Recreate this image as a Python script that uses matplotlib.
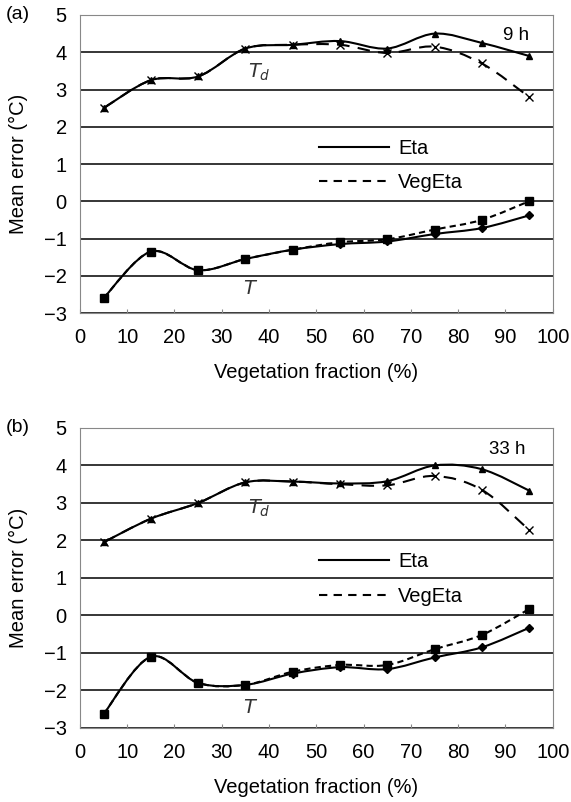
import numpy as np
from matplotlib import pyplot as plt
from matplotlib.path import Path
from matplotlib.patches import PathPatch
from matplotlib.lines import Line2D

plt.rcParams['font.family'] = ['Liberation Sans', 'DejaVu Sans']
plt.rcParams['font.size'] = 14.5

veg = [5, 15, 25, 35, 45, 55, 65, 75, 85, 95]

# panel (a), 9 h
td_eta_a = [2.5, 3.25, 3.35, 4.1, 4.2, 4.3, 4.1, 4.5, 4.25, 3.9]
td_veg_a = [2.5, 3.25, 3.35, 4.1, 4.2, 4.2, 3.98, 4.15, 3.7, 2.8]
t_eta_a = [-2.6, -1.35, -1.85, -1.55, -1.3, -1.15, -1.08, -0.88, -0.72, -0.38]
t_veg_a = [-2.6, -1.35, -1.85, -1.55, -1.3, -1.1, -1.02, -0.76, -0.5, 0.0]

# panel (b), 33 h
td_eta_b = [1.95, 2.58, 3.0, 3.55, 3.57, 3.52, 3.58, 4.0, 3.9, 3.33]
td_veg_b = [1.95, 2.58, 3.0, 3.55, 3.57, 3.5, 3.47, 3.72, 3.35, 2.28]
t_eta_b = [-2.63, -1.1, -1.8, -1.85, -1.55, -1.38, -1.43, -1.12, -0.85, -0.33]
t_veg_b = [-2.63, -1.1, -1.8, -1.85, -1.5, -1.32, -1.32, -0.9, -0.52, 0.17]

yticks = [-3, -2, -1, 0, 1, 2, 3, 4, 5]
xticks = [0, 10, 20, 30, 40, 50, 60, 70, 80, 90, 100]


def smooth_path(x, y):  # Excel style smoothed line, bezier through the points
    p = np.column_stack([x, y]).astype(float)
    verts = [p[0]]
    codes = [Path.MOVETO]
    n = len(p)
    for i in range(n - 1):
        p0 = p[i - 1] if i > 0 else p[i]
        p3 = p[i + 2] if i + 2 < n else p[i + 1]
        c1 = p[i] + (p[i + 1] - p0) / 6
        c2 = p[i + 1] - (p3 - p[i]) / 6
        verts += [c1, c2, p[i + 1]]
        codes += [Path.CURVE4] * 3
    return Path(verts, codes)


def draw_series(ax, y, ls, marker, ms, zorder):
    patch = PathPatch(smooth_path(veg, y), fill=False, ec='black', lw=1.5,
                      ls=ls, zorder=zorder)
    ax.add_patch(patch)
    ax.plot(veg, y, ls='none', marker=marker, ms=ms, color='black',
            mew=1.0, zorder=zorder + 1)


def panel(ax, tag, hours, hours_x, hours_y, td_eta, td_veg, t_eta, t_veg,
          td_y, t_y):
    ax.set_xlim(0, 100)
    ax.set_ylim(-3, 5)
    for v in yticks:
        ax.axhline(v, color='black', lw=1.1, zorder=1)
    for s in ax.spines.values():
        s.set_color('#888888')
        s.set_linewidth(0.8)

    draw_series(ax, td_veg, (0, (6, 4)), 'x', 6, 3)
    draw_series(ax, td_eta, '-', '^', 5, 5)
    draw_series(ax, t_veg, (0, (3, 2)), 's', 6, 3)
    draw_series(ax, t_eta, '-', 'D', 4, 5)

    ax.set_xticks(xticks)
    ax.set_yticks(yticks)
    ax.tick_params(axis='x', direction='in', length=3, color='#888888', pad=11)
    ax.tick_params(axis='y', length=0, pad=9.5)
    ax.set_xlabel('Vegetation fraction (%)', labelpad=11)
    ax.set_ylabel('Mean error (\u00b0C)')
    ax.yaxis.set_label_coords(-0.11, 0.5)

    ax.text(-0.106, 1.0, tag, transform=ax.transAxes, ha='right', va='center',
            fontsize=14)
    ax.text(hours_x, hours_y, hours, ha='left', va='center', fontsize=13.5)
    ax.text(35.5, td_y, r'$T_d$', ha='left', va='center', fontsize=14,
            color='#333333')
    ax.text(34.5, t_y, r'$T$', ha='left', va='center', fontsize=14,
            color='#333333')

    handles = [Line2D([], [], color='black', lw=1.5, ls='-'),
               Line2D([], [], color='black', lw=1.5, ls=(0, (4, 3)))]
    ax.legend(handles, ['Eta', 'VegEta'], loc='upper left',
              bbox_to_anchor=(0.505, 0.585), frameon=False, borderaxespad=0,
              borderpad=0, handlelength=3.5, handletextpad=0.45,
              labelspacing=0.75, fontsize=14.5)


fig = plt.figure(figsize=(5.71, 8.02), dpi=100)
ax_a = fig.add_axes([0.140, 0.6097, 0.828, 0.3716])
ax_b = fig.add_axes([0.140, 0.0923, 0.828, 0.3741])

panel(ax_a, '(a)', '9 h', 89.5, 4.46, td_eta_a, td_veg_a, t_eta_a, t_veg_a,
      3.45, -2.35)
panel(ax_b, '(b)', '33 h', 86.5, 4.42, td_eta_b, td_veg_b, t_eta_b, t_veg_b,
      2.85, -2.47)

fig.savefig('out.png', dpi=100)
